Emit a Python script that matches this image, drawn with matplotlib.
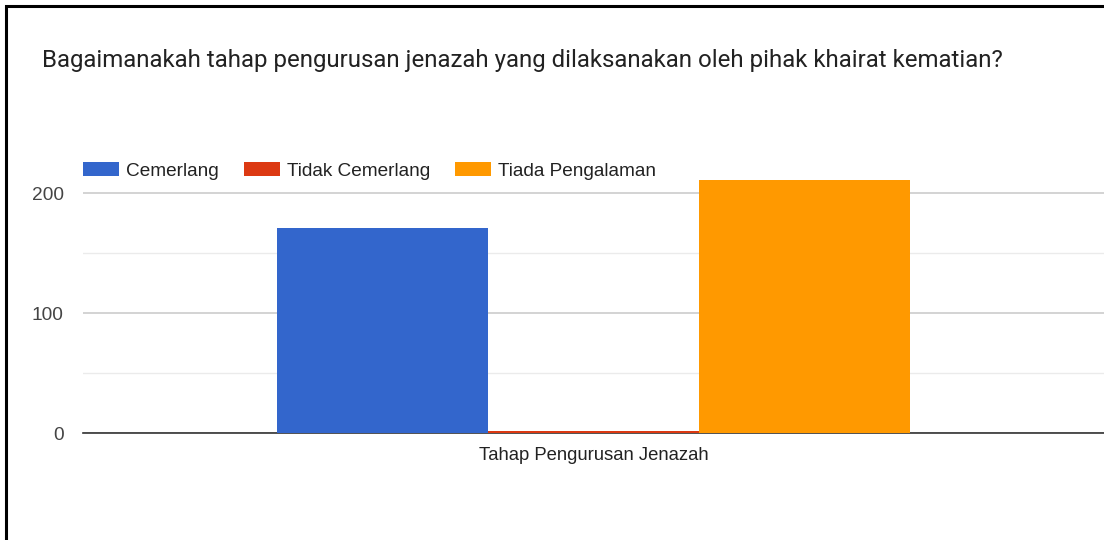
import matplotlib.pyplot as plt
from matplotlib.patches import Rectangle

# data
kategori = ['Tahap Pengurusan Jenazah']
siri = ['Cemerlang', 'Tidak Cemerlang', 'Tiada Pengalaman']
nilai = [171, 2, 211]
warna = ['#3366cc', '#dc3912', '#ff9900']
yticks = [0, 100, 200]

plt.rcParams['font.family'] = ['Liberation Sans', 'DejaVu Sans']

fig = plt.figure(figsize=(11.04, 5.40), dpi=100)
W, H = 1104, 540

# axes: x 83..1104, y 0 at 433 px
x0, x1 = 83, 1104
ytop, ybot = 157, 433
ax = fig.add_axes([x0 / W, 1 - ybot / H, (x1 - x0) / W, (ybot - ytop) / H])

lebar = 0.2067
for i in range(len(siri)):
    ax.bar((i - 1) * lebar, nilai[i], width=lebar, color=warna[i],
           label=siri[i], zorder=3, linewidth=0)

ax.set_xlim(-0.5, 0.5)
ax.set_ylim(0, 230)
ax.set_xticks([0])
ax.set_xticklabels(kategori, fontsize=13.3, color='#222222')
ax.set_yticks(yticks)
ax.set_yticklabels([str(v) for v in yticks], fontsize=13.8, color='#444444')
ax.set_yticks([50, 150], minor=True)
ax.tick_params(axis='both', which='both', length=0)
ax.tick_params(axis='y', pad=14)
ax.tick_params(axis='x', pad=10)
ax.grid(axis='y', which='major', color='#cccccc', linewidth=1.2, zorder=0)
ax.grid(axis='y', which='minor', color='#ebebeb', linewidth=1.0, zorder=0)
for s in ['top', 'right', 'left']:
    ax.spines[s].set_visible(False)
ax.spines['bottom'].set_color('#333333')
ax.spines['bottom'].set_linewidth(1.2)
ax.spines['bottom'].set_zorder(2.5)

leg = ax.legend(loc='center left', bbox_to_anchor=(83 / W, 1 - 171 / H),
                bbox_transform=fig.transFigure, ncol=3,
                frameon=False, fontsize=13.7, handlelength=1.9, handleheight=0.72,
                handletextpad=0.37, columnspacing=1.3, borderaxespad=0, borderpad=0)
for t in leg.get_texts():
    t.set_color('#222222')

fig.text(42 / W, 1 - 60 / H, 'Bagaimanakah tahap pengurusan jenazah yang dilaksanakan oleh pihak khairat kematian?',
         fontsize=17.3, color='#222222', va='center', ha='left', family='Roboto')

# outer border
fig.patches.append(Rectangle((6 / W, -0.1), 1.2, 1 - 5.5 / H + 0.1, transform=fig.transFigure,
                             fill=False, edgecolor='black', linewidth=2.2))

fig.savefig('out.png', dpi=100)
